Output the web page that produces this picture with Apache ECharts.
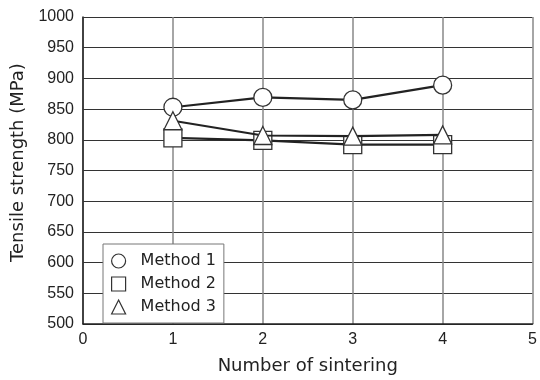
<!DOCTYPE html>
<html>
<head>
<meta charset="utf-8">
<script src="https://cdn.jsdelivr.net/npm/echarts@6/dist/echarts.min.js"></script>
<style>html,body{margin:0;padding:0;background:#fff;}#c{width:540px;height:380px;}</style>
</head>
<body>
<div id="c"></div>
<script>
var sinterCounts = [1, 2, 3, 4];
var method1 = [853, 869, 865, 889];
var method2 = [803, 799, 792, 792];
var method3 = [831, 807, 806, 808];
var seriesNames = ['Method 1', 'Method 2', 'Method 3'];
var symbols = ['circle', 'rect', 'triangle'];
var values = [method1, method2, method3];

function pairs(xs, ys) { return xs.map(function (x, i) { return [x, ys[i]]; }); }

var chart = echarts.init(document.getElementById('c'), null, {renderer: 'canvas'});
var markerStyle = {color: '#fff', borderColor: '#333', borderWidth: 1.3};
chart.setOption({
  animation: false,
  grid: {left: 83, right: 7, top: 17, bottom: 53},
  xAxis: {
    type: 'value', min: 0, max: 5, interval: 1,
    name: 'Number of sintering', nameLocation: 'middle', nameGap: 33,
    nameTextStyle: {fontFamily: 'DejaVu Sans', fontSize: 18, color: '#222'},
    axisLine: {lineStyle: {color: '#222', width: 1.5}},
    axisTick: {show: false},
    axisLabel: {fontFamily: 'Liberation Sans', fontSize: 16, color: '#222', margin: 8,
      formatter: function (v) { return String(v); }},
    splitLine: {show: true, lineStyle: {color: '#888', width: 1.5}}
  },
  yAxis: {
    type: 'value', min: 500, max: 1000, interval: 50,
    name: 'Tensile strength (MPa)', nameLocation: 'middle', nameGap: 46,
    nameTextStyle: {fontFamily: 'DejaVu Sans', fontSize: 18, color: '#222', padding: [0, 0, 0, 16]},
    axisLine: {show: true, lineStyle: {color: '#222', width: 1.5}},
    axisTick: {show: false},
    axisLabel: {fontFamily: 'Liberation Sans', fontSize: 16, color: '#222', margin: 9,
      formatter: function (v) { return String(v); }},
    splitLine: {show: true, lineStyle: {color: '#333', width: 1}}
  },
  legend: {
    orient: 'vertical', left: 103, top: 244,
    padding: [9, 8, 8, 8],
    itemWidth: 14, itemHeight: 14, itemGap: 7,
    backgroundColor: '#fff', borderColor: '#777', borderWidth: 1, borderRadius: 0,
    textStyle: {fontFamily: 'DejaVu Sans', fontSize: 16, color: '#222', padding: [0, 0, 0, 10]},
    data: seriesNames.map(function (n, i) {
      return {name: n, icon: symbols[i], itemStyle: {color: '#fff', borderColor: '#333', borderWidth: 1.2}};
    })
  },
  series: seriesNames.map(function (n, i) {
    return {
      name: n, type: 'line', data: pairs(sinterCounts, values[i]),
      symbol: symbols[i], symbolSize: 18,
      itemStyle: markerStyle,
      lineStyle: {color: '#222', width: 2.2},
      emphasis: {disabled: true}, z: 2 + i
    };
  })
});
</script>
</body>
</html>
